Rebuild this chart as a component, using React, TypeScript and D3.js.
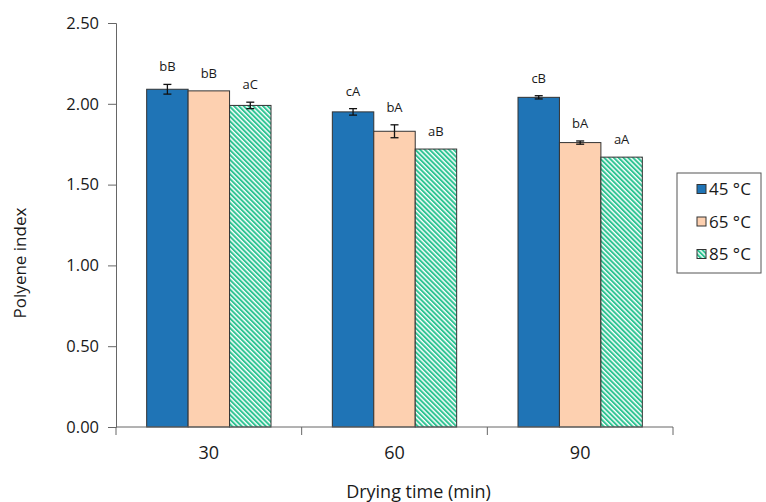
import React, { useEffect, useRef } from 'react'
import * as d3 from 'd3'

const categories = ['30', '60', '90']
const series = ['45 °C', '65 °C', '85 °C']
const values = [
  [2.09, 2.08, 1.99],
  [1.95, 1.83, 1.72],
  [2.04, 1.76, 1.67]
]
const errors = [
  [0.03, 0, 0.02],
  [0.02, 0.04, 0],
  [0.01, 0.01, 0]
]
const letters = [
  ['bB', 'bB', 'aC'],
  ['cA', 'bA', 'aB'],
  ['cB', 'bA', 'aA']
]
const yTicks = [0, 0.5, 1, 1.5, 2, 2.5]

const fills = ['#1f74b6', '#fdd0b0', 'url(#hatch)']
const font = '"Open Sans", Lato, sans-serif'

function App () {
  const ref = useRef<SVGSVGElement>(null)

  useEffect(() => {
    const svg = d3.select(ref.current)
    svg.selectAll('*').remove()

    const margin = { top: 23, left: 116, right: 93, bottom: 75 }
    const width = 766 - margin.left - margin.right
    const height = 502 - margin.top - margin.bottom

    const defs = svg.append('defs')
    const pat = defs.append('pattern')
      .attr('id', 'hatch')
      .attr('patternUnits', 'userSpaceOnUse')
      .attr('width', 3.4)
      .attr('height', 3.4)
      .attr('patternTransform', 'rotate(-45)')
    pat.append('rect').attr('width', 3.4).attr('height', 3.4).attr('fill', '#ffffff')
    pat.append('rect').attr('width', 2).attr('height', 3.4).attr('fill', '#2fc493')

    const g = svg.append('g')
      .attr('transform', 'translate(' + margin.left + ',' + margin.top + ')')

    const x = d3.scaleBand().domain(categories).range([0, width]).paddingInner(0).paddingOuter(0)
    const xs = d3.scaleBand().domain(series).range([0, x.bandwidth()]).paddingInner(0).paddingOuter(0.74)
    const y = d3.scaleLinear().domain([0, 2.5]).range([height, 0])

    // y axis
    const ya = g.append('g')
      .call(d3.axisLeft(y).tickValues(yTicks).tickFormat(d3.format('.2f')).tickSizeOuter(0).tickSize(8).tickPadding(9))
    ya.select('.domain').attr('stroke', '#666')
    ya.selectAll('line').attr('stroke', '#666')
    ya.selectAll('text').attr('font-family', font).attr('font-size', 16.5).attr('fill', '#1a1a1a')

    // bars
    categories.forEach((c, i) => {
      const grp = g.append('g').attr('transform', 'translate(' + x(c) + ',0)')
      series.forEach((s, j) => {
        const v = values[i][j]
        const e = errors[i][j]
        const bx = xs(s) as number
        const bw = xs.bandwidth()
        grp.append('rect')
          .attr('x', bx)
          .attr('y', y(v))
          .attr('width', bw)
          .attr('height', y(0) - y(v))
          .attr('fill', fills[j])
          .attr('stroke', '#333')
          .attr('stroke-width', 1)
        const cx = bx + bw / 2
        if (e > 0) {
          grp.append('line').attr('x1', cx).attr('x2', cx).attr('y1', y(v + e)).attr('y2', y(v - e)).attr('stroke', '#111').attr('stroke-width', 1.3)
          grp.append('line').attr('x1', cx - 4).attr('x2', cx + 4).attr('y1', y(v + e)).attr('y2', y(v + e)).attr('stroke', '#111').attr('stroke-width', 1.3)
          grp.append('line').attr('x1', cx - 4).attr('x2', cx + 4).attr('y1', y(v - e)).attr('y2', y(v - e)).attr('stroke', '#111').attr('stroke-width', 1.3)
        }
        grp.append('text')
          .attr('x', cx)
          .attr('y', y(v + e) - 13)
          .attr('text-anchor', 'middle')
          .attr('font-family', font)
          .attr('font-size', 13)
          .attr('fill', '#1a1a1a')
          .text(letters[i][j])
      })
    })

    // x axis
    const xa = g.append('g')
      .attr('transform', 'translate(0,' + height + ')')
    xa.append('line').attr('x1', 0).attr('x2', width).attr('stroke', '#666')
    d3.range(categories.length + 1).forEach(k => {
      const tx = k * x.step()
      xa.append('line').attr('x1', tx).attr('x2', tx).attr('y1', 0).attr('y2', 8).attr('stroke', '#666')
    })
    categories.forEach(c => {
      xa.append('text')
        .attr('x', (x(c) as number) + x.bandwidth() / 2)
        .attr('y', 32)
        .attr('text-anchor', 'middle')
        .attr('font-family', font)
        .attr('font-size', 18)
        .attr('fill', '#1a1a1a')
        .text(c)
    })

    // axis titles
    g.append('text')
      .attr('x', width / 2 + 24)
      .attr('y', height + 71)
      .attr('text-anchor', 'middle')
      .attr('font-family', font)
      .attr('font-size', 18)
      .attr('fill', '#1a1a1a')
      .text('Drying time (min)')
    g.append('g')
      .attr('transform', 'translate(' + (-90) + ',' + (height / 2 + 38) + ')')
      .append('text')
      .attr('text-anchor', 'middle')
      .attr('transform', 'rotate(-90)')
      .attr('font-family', font)
      .attr('font-size', 17)
      .attr('fill', '#1a1a1a')
      .text('Polyene index')

    // legend
    const lg = svg.append('g').attr('transform', 'translate(677,173)')
    lg.append('rect').attr('width', 84).attr('height', 100).attr('fill', '#fff').attr('stroke', '#555')
    series.forEach((s, j) => {
      const ly = 16 + j * 32.5
      lg.append('rect')
        .attr('x', 20).attr('y', ly - 4.5)
        .attr('width', 9).attr('height', 9)
        .attr('fill', fills[j])
        .attr('stroke', '#333')
      lg.append('text')
        .attr('x', 32).attr('y', ly + 6)
        .attr('font-family', font)
        .attr('font-size', 17)
        .attr('fill', '#1a1a1a')
        .text(s)
    })
  }, [])

  return (
    <svg ref={ref} width={766} height={502} style={{ position: 'absolute', left: 0, top: 0 }} />
  )
}

export default App
